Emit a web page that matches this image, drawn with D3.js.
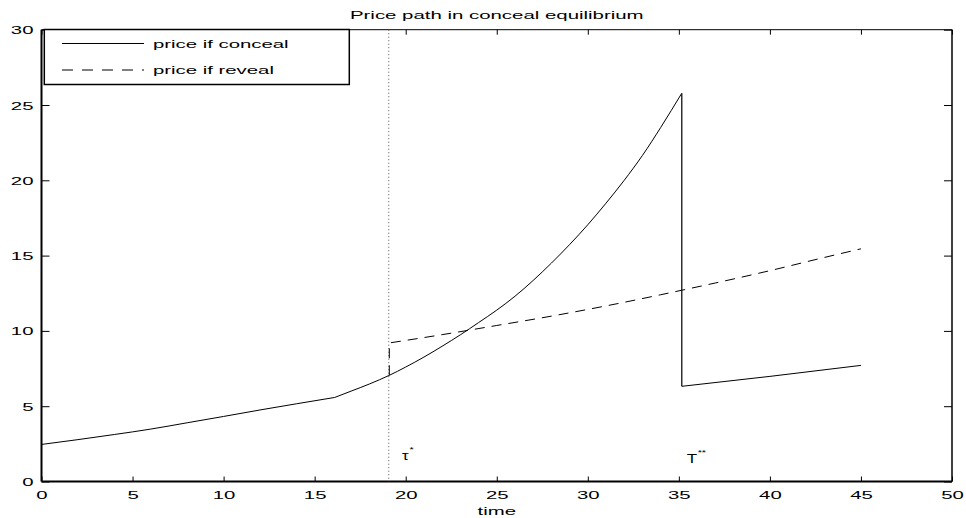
<!DOCTYPE html>
<html>
<head>
<meta charset="utf-8">
<script src="https://cdn.jsdelivr.net/npm/d3@7"></script>
<style>
  html, body { margin: 0; padding: 0; background: #fff; }
  svg { display: block; }
  text { font-family: "Liberation Sans", Arial, Helvetica, sans-serif; fill: #000; }
</style>
</head>
<body>
<svg id="chart" width="966" height="518"></svg>
<script>
// ---- data ----
const titleText = "Price path in conceal equilibrium";
const xLabel = "time";
const xTicks = [0, 5, 10, 15, 20, 25, 30, 35, 40, 45, 50];
const yTicks = [0, 5, 10, 15, 20, 25, 30];
const legendLabels = ["price if conceal", "price if reveal"];

// price if conceal: before tau*, after tau* until T**, after T**
const concealA_x = [0, 2, 4, 6, 8, 10, 12, 14, 16.1];
const concealA_y = [2.46, 2.78, 3.12, 3.48, 3.9, 4.32, 4.75, 5.16, 5.58];
const concealB_x = [16.1, 17, 18, 19.1, 20, 21, 22, 23, 24, 25, 26, 27, 28, 29, 30, 31, 32, 33, 34, 35.16];
const concealB_y = [5.58, 6.0, 6.47, 7.05, 7.6, 8.26, 8.98, 9.74, 10.55, 11.38, 12.3, 13.35, 14.5, 15.73, 17.05, 18.48, 20.0, 21.65, 23.5, 25.78];
const concealC_x = [35.16, 40, 45];
const concealC_y = [6.32, 6.98, 7.71];

// price if reveal (starts with jump at tau*)
const reveal_x = [19.1, 19.1, 22, 25, 28, 31, 34, 35.16, 37, 40, 43, 45];
const reveal_y = [7.05, 9.2, 9.75, 10.36, 10.98, 11.66, 12.4, 12.7, 13.18, 14.0, 14.88, 15.45];

const tauStar = 19.07;
const annotations = [
  { base: "τ", sup: "*", x: 19.8, y: 1.46 },
  { base: "T", sup: "**", x: 35.43, y: 1.24 }
];

// ---- layout ----
const L = 41.5, R = 952, T = 29.7, B = 481.5;
const svg = d3.select("#chart");
const x = d3.scaleLinear().domain([0, 50]).range([L, R]);
const y = d3.scaleLinear().domain([0, 30]).range([B, T]);

const SX = 1.85; // horizontal text stretch seen in the reference

function zip(xs, ys) { return xs.map((v, i) => [v, ys[i]]); }

// ---- axes (ticks inward, box on) ----
const gx = svg.append("g").attr("transform", `translate(0,${B})`)
  .call(d3.axisBottom(x).tickValues(xTicks).tickSize(-5).tickSizeOuter(0).tickPadding(0).tickFormat(d3.format("d")));
gx.select(".domain").remove();
gx.selectAll("line").attr("stroke", "#000");
gx.selectAll("text")
  .attr("y", 0).attr("dy", null)
  .attr("transform", `translate(0,17.5) scale(${SX},1)`)
  .attr("font-size", 11)
  .attr("text-anchor", "middle");

const gxt = svg.append("g").attr("transform", `translate(0,${T})`)
  .call(d3.axisTop(x).tickValues(xTicks).tickSize(-5).tickSizeOuter(0).tickFormat(""));
gxt.select(".domain").remove();
gxt.selectAll("line").attr("stroke", "#000");

const gy = svg.append("g").attr("transform", `translate(${L},0)`)
  .call(d3.axisLeft(y).tickValues(yTicks).tickSize(-8).tickSizeOuter(0).tickPadding(0).tickFormat(d3.format("d")));
gy.select(".domain").remove();
gy.selectAll("line").attr("stroke", "#000");
gy.selectAll("text")
  .attr("x", 0).attr("dy", null)
  .attr("transform", `translate(-8,4) scale(${SX},1)`)
  .attr("font-size", 11)
  .attr("text-anchor", "end");

const gyr = svg.append("g").attr("transform", `translate(${R},0)`)
  .call(d3.axisRight(y).tickValues(yTicks).tickSize(-8).tickSizeOuter(0).tickFormat(""));
gyr.select(".domain").remove();
gyr.selectAll("line").attr("stroke", "#000");

// box
svg.append("line").attr("x1", L).attr("x2", R).attr("y1", T).attr("y2", T).attr("stroke", "#000").attr("stroke-width", 1);
svg.append("line").attr("x1", L).attr("x2", R).attr("y1", B).attr("y2", B).attr("stroke", "#000").attr("stroke-width", 2);
svg.append("line").attr("x1", L).attr("x2", L).attr("y1", T).attr("y2", B).attr("stroke", "#000").attr("stroke-width", 2);
svg.append("line").attr("x1", R).attr("x2", R).attr("y1", T).attr("y2", B).attr("stroke", "#000").attr("stroke-width", 1.5);

// ---- title & axis label ----
svg.append("text")
  .attr("transform", `translate(${(L + R) / 2},18.5) scale(1.73,1)`)
  .attr("text-anchor", "middle").attr("font-size", 11.8).text(titleText);
svg.append("text")
  .attr("transform", `translate(${(L + R) / 2},515) scale(${SX},1)`)
  .attr("text-anchor", "middle").attr("font-size", 11).text(xLabel);

// ---- dotted tau* line ----
svg.append("line")
  .attr("x1", x(tauStar)).attr("x2", x(tauStar))
  .attr("y1", y(30)).attr("y2", y(0))
  .attr("stroke", "#555").attr("stroke-width", 1)
  .attr("stroke-dasharray", "1,2.5");

// ---- lines ----
const smooth = d3.line().x(d => x(d[0])).y(d => y(d[1])).curve(d3.curveMonotoneX);
const straight = d3.line().x(d => x(d[0])).y(d => y(d[1]));

svg.append("path").attr("d", smooth(zip(concealA_x, concealA_y)))
  .attr("fill", "none").attr("stroke", "#000").attr("stroke-width", 1);
svg.append("path").attr("d", smooth(zip(concealB_x, concealB_y)))
  .attr("fill", "none").attr("stroke", "#000").attr("stroke-width", 1);
// drop at T**
svg.append("path").attr("d", straight([[concealB_x[concealB_x.length - 1], concealB_y[concealB_y.length - 1]], [concealC_x[0], concealC_y[0]]]))
  .attr("fill", "none").attr("stroke", "#222").attr("stroke-width", 1.4);
svg.append("path").attr("d", smooth(zip(concealC_x, concealC_y)))
  .attr("fill", "none").attr("stroke", "#000").attr("stroke-width", 1);

// reveal: vertical jump + smooth rise, dashed
const rev = zip(reveal_x, reveal_y);
const revPath = straight(rev.slice(0, 2)) + smooth(rev.slice(1)).replace(/^M/, "L");
svg.append("path").attr("d", revPath)
  .attr("fill", "none").attr("stroke", "#000").attr("stroke-width", 1)
  .attr("stroke-dasharray", "10,7");

// ---- annotations ----
annotations.forEach(a => {
  const t = svg.append("text")
    .attr("transform", `translate(${x(a.x)},${y(a.y)}) scale(1.35,1)`)
    .attr("font-size", 12.5);
  t.append("tspan").text(a.base);
  t.append("tspan").attr("font-size", 8).attr("dy", -8).attr("dx", 0.5).text(a.sup);
});

// ---- legend ----
const lg = svg.append("g");
lg.append("rect").attr("x", 44.3).attr("y", 29.5).attr("width", 305).attr("height", 55)
  .attr("fill", "#fff").attr("stroke", "#000").attr("stroke-width", 1.5);
const legendRows = [
  { label: legendLabels[0], dash: null, yy: 43.5 },
  { label: legendLabels[1], dash: "11,9", yy: 70 }
];
legendRows.forEach(r => {
  lg.append("line").attr("x1", 62).attr("x2", 144).attr("y1", r.yy).attr("y2", r.yy)
    .attr("stroke", "#000").attr("stroke-width", 1)
    .attr("stroke-dasharray", r.dash);
  lg.append("text")
    .attr("transform", `translate(153,${r.yy + 4}) scale(${SX},1)`)
    .attr("font-size", 11).text(r.label);
});
</script>
</body>
</html>
